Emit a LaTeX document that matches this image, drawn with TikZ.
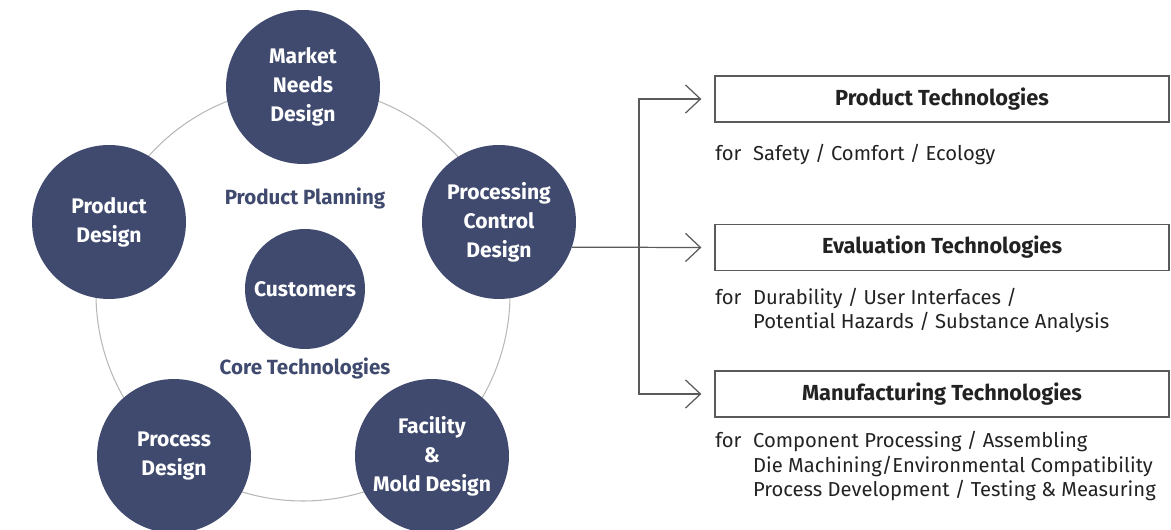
\documentclass[tikz,border=0pt]{standalone}
\usepackage{fontspec}
\setmainfont{Fira Sans}
\usetikzlibrary{arrows.meta}
\definecolor{navy}{HTML}{3F4A6E}
\definecolor{ringgray}{HTML}{B8B8B8}
\definecolor{linegray}{HTML}{5A5A5A}
\definecolor{txt}{HTML}{222222}
\tikzset{
  bubble/.style={circle, fill=navy, draw=none, minimum size=3.08cm, inner sep=0pt,
    text=white, align=center, font=\bfseries\fontsize{12}{16.4}\selectfont},
  core/.style={bubble, minimum size=2.4cm},
  midlabel/.style={text=navy, font=\bfseries\fontsize{11.7}{13}\selectfont},
  techbox/.style={draw=linegray, line width=0.8pt, minimum width=9.08cm, minimum height=0.92cm,
    inner sep=0pt, text=txt, font=\bfseries\fontsize{12.4}{14}\selectfont},
  desc/.style={anchor=west, align=left, inner sep=0pt, text=txt,
    font=\fontsize{11.5}{14.2}\selectfont},
  conn/.style={draw=linegray, line width=0.7pt, -{Straight Barb[length=8.5pt,width=16pt,line width=0.7pt]}},
  ringline/.style={draw=ringgray, line width=0.6pt}
}
\newcommand{\forbox}{\makebox[21.5pt][l]{for}}
\begin{document}
\begin{tikzpicture}[x=0.02cm,y=-0.02cm]
\useasboundingbox (0,0) rectangle (1171,530);
\coordinate (ringc) at (303,294);
\draw[ringline] (ringc) circle [radius=207];
\node[bubble] (mkt) at (303,87) {Market\\Needs\\Design};
\node[bubble] (pd) at (109,222) {Product\\Design};
\node[bubble] (pcd) at (499,222) {Processing\\Control\\Design};
\node[bubble] (proc) at (174,456) {Process\\Design};
\node[bubble] (fac) at (432,456) {Facility\\\&\\Mold Design};
\node[core] (cust) at (305,289) {Customers};
\node[midlabel] (plan) at (305,198) {Product Planning};
\node[midlabel] (coret) at (305,368) {Core Technologies};

\node[techbox] (prod) at (942,99) {Product Technologies};
\node[techbox] (eval) at (942,247.5) {Evaluation Technologies};
\node[techbox] (manu) at (942,394) {Manufacturing Technologies};

\node[desc] (d1) at (715,155) {\forbox Safety / Comfort / Ecology};
\node[desc] (d2) at (715,310.5) {\forbox Durability / User Interfaces /\\\hspace*{21.5pt}Potential Hazards / Substance Analysis};
\node[desc] (d3) at (715,466) {\forbox Component Processing / Assembling\\\hspace*{21.5pt}Die Machining/Environmental Compatibility\\\hspace*{21.5pt}Process Development / Testing \& Measuring};

\coordinate (j) at (639,247.5);
\draw[conn] (pcd.-19) -- ([xshift=-0.26cm]eval.west);
\draw[conn] (j) |- ([xshift=-0.26cm]prod.west);
\draw[conn] (j) |- ([xshift=-0.26cm]manu.west);
\end{tikzpicture}
\end{document}
